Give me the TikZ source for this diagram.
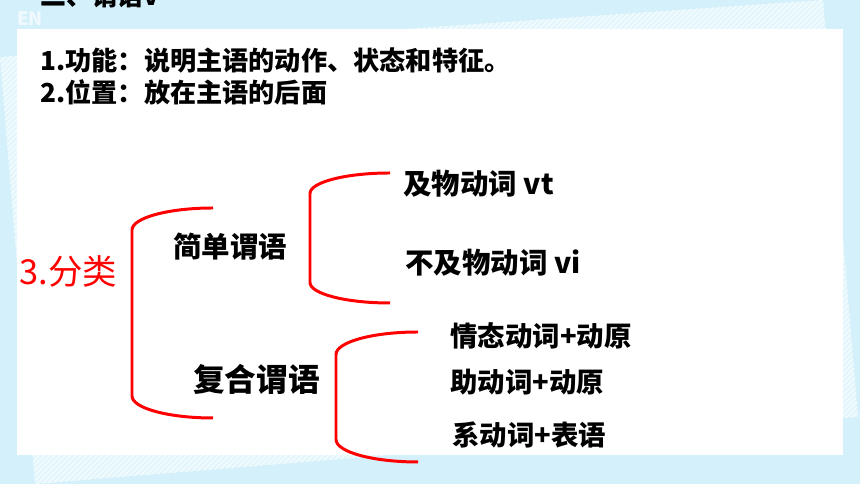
\documentclass[tikz,border=0pt]{standalone}
\usepackage{fontspec}
\setmainfont{Noto Sans CJK SC}
\usetikzlibrary{patterns}

\definecolor{bgblue}{HTML}{D4F0FA}
\definecolor{paperblue}{HTML}{E3F6FC}
\definecolor{enwhite}{HTML}{F0FAFE}

\tikzset{
  redbrace/.style={draw=red, line width=1.7pt},
  item/.style={anchor=west, inner sep=0pt, font=\bfseries\fontsize{#1}{#1}\selectfont},
}

\begin{document}
\begin{tikzpicture}
  \useasboundingbox (0,0) rectangle (17.2,9.68);
  \clip (0,0) rectangle (17.2,9.68);

  % background and tilted sheet
  \fill[bgblue] (0,0) rectangle (17.2,9.68);
  \fill[paperblue] (0,8.54) -- (16.46,9.68) -- (17.16,1.34) -- (0.70,0) -- cycle;
  \fill[pattern=north east lines, pattern color=white] (0,8.54) -- (16.46,9.68) -- (17.16,1.34) -- (0.70,0) -- cycle;
  \fill[white] (0.34,0.58) rectangle (16.86,9.10);

  % heading
  \node[item=14.7] (title) at (0.80,9.76) {二、谓语v};
  \node[anchor=center, inner sep=0pt, text=enwhite, font=\bfseries\fontsize{10.5}{10.5}\selectfont] (en) at (0.60,9.31) {EN};

  \node[item=14.9] (func) at (0.80,8.48) {1.功能：说明主语的动作、状态和特征。};
  \node[item=14.9] (pos) at (0.80,7.84) {2.位置：放在主语的后面};

  % classification
  \node[anchor=west, inner sep=0pt, text=red, font=\fontsize{19.6}{19.6}\selectfont] (kind) at (0.38,4.26) {3.分类};
  \node[item=16.2] (simple) at (3.46,4.74) {简单谓语};
  \node[item=18] (compound) at (3.86,2.10) {复合谓语};

  \node[item=16.2] (vt) at (8.06,6.00) {及物动词 vt};
  \node[item=16.2] (vi) at (8.10,4.42) {不及物动词 vi};

  \node[item=15.6] (modal) at (9.00,2.96) {情态动词+动原};
  \node[item=15.6] (aux) at (9.00,2.04) {助动词+动原};
  \node[item=15.6] (link) at (9.04,0.98) {系动词+表语};

  % braces
  \coordinate (kindtop) at (4.26,5.52);
  \coordinate (simpletop) at (7.80,6.22);
  \coordinate (compoundtop) at (8.36,3.04);

  \draw[redbrace] (kindtop) arc[start angle=90, end angle=180, x radius=1.62, y radius=0.44]
    -- ++(0,-3.32) arc[start angle=180, end angle=270, x radius=1.62, y radius=0.44];
  \draw[redbrace] (simpletop) arc[start angle=90, end angle=180, x radius=1.60, y radius=0.41]
    -- ++(0,-1.78) arc[start angle=180, end angle=270, x radius=1.60, y radius=0.41];
  \draw[redbrace] (compoundtop) arc[start angle=90, end angle=180, x radius=1.64, y radius=0.45]
    -- ++(0,-1.70) arc[start angle=180, end angle=270, x radius=1.64, y radius=0.45];

\end{tikzpicture}
\end{document}
